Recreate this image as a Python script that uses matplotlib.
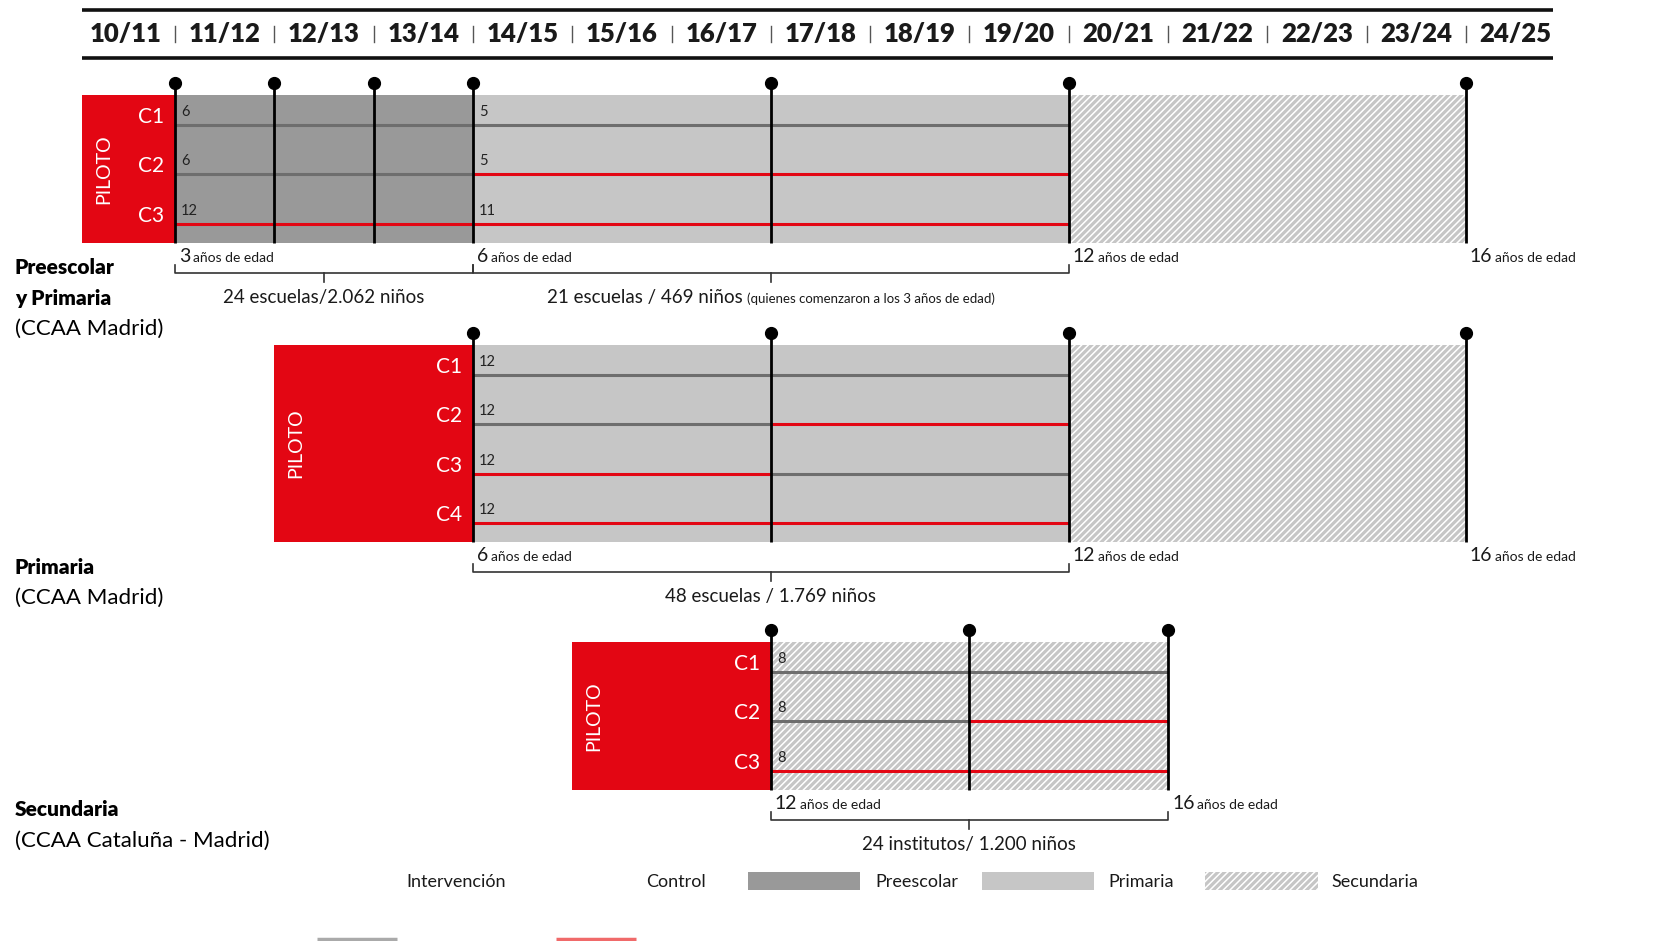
import matplotlib
matplotlib.use('Agg')
import matplotlib.pyplot as plt
from matplotlib.patches import Rectangle

plt.rcParams['font.family'] = ['Lato', 'DejaVu Sans']
plt.rcParams['hatch.linewidth'] = 1.1

# ---------------- data ----------------
years = ['10/11', '11/12', '12/13', '13/14', '14/15', '15/16', '16/17', '17/18',
         '18/19', '19/20', '20/21', '21/22', '22/23', '23/24', '24/25']

# Block 1 : Preescolar y Primaria
b1_title = ['Preescolar', 'y Primaria']
b1_region = '(CCAA Madrid)'
b1_pilot = 0.065
b1_stages = [('pre', 1, 4), ('prim', 4, 10), ('sec', 10, 14)]
b1_waves = [1, 2, 3, 4, 7, 10, 14]
b1_cohorts = ['C1', 'C2', 'C3']
b1_lines = [[(1, 10, 'I')], [(1, 4, 'I'), (4, 10, 'C')], [(1, 10, 'C')]]
b1_counts = [(1, ['6', '6', '12']), (4, ['5', '5', '11'])]
b1_ages = [(1, '3'), (4, '6'), (10, '12'), (14, '16')]
b1_samples = [(1, 4, '24 escuelas/2.062 niños', ''),
              (4, 10, '21 escuelas / 469 niños', '(quienes comenzaron a los 3 años de edad)')]

# Block 2 : Primaria
b2_title = ['Primaria']
b2_region = '(CCAA Madrid)'
b2_pilot = 2
b2_stages = [('prim', 4, 10), ('sec', 10, 14)]
b2_waves = [4, 7, 10, 14]
b2_cohorts = ['C1', 'C2', 'C3', 'C4']
b2_lines = [[(4, 10, 'I')], [(4, 7, 'I'), (7, 10, 'C')], [(4, 7, 'C'), (7, 10, 'I')], [(4, 10, 'C')]]
b2_counts = [(4, ['12', '12', '12', '12'])]
b2_ages = [(4, '6'), (10, '12'), (14, '16')]
b2_samples = [(4, 10, '48 escuelas / 1.769 niños', '')]

# Block 3 : Secundaria
b3_title = ['Secundaria']
b3_region = '(CCAA Cataluña - Madrid)'
b3_pilot = 5
b3_stages = [('sec', 7, 11)]
b3_waves = [7, 9, 11]
b3_cohorts = ['C1', 'C2', 'C3']
b3_lines = [[(7, 11, 'I')], [(7, 9, 'I'), (9, 11, 'C')], [(7, 11, 'C')]]
b3_counts = [(7, ['8', '8', '8'])]
b3_ages = [(7, '12'), (11, '16')]
b3_samples = [(7, 11, '24 institutos/ 1.200 niños', '')]

legend_labels = ['Intervención', 'Control', 'Preescolar', 'Primaria', 'Secundaria']

# ---------------- styles ----------------
RED = '#e30613'
DARK = '#999999'
LIGHT = '#c6c6c6'
IGRAY = '#6e6e6e'
TXT = '#1a1a1a'
stage_style = {'pre': dict(facecolor=DARK, edgecolor='none'),
               'prim': dict(facecolor=LIGHT, edgecolor='none'),
               'sec': dict(facecolor=LIGHT, edgecolor='white', hatch='/////', linewidth=0)}
line_color = {'I': IGRAY, 'C': RED}

W, H = 1653, 941
X0, DX = 75.7, 99.3


def X(px):
    return (px - X0) / DX


fig = plt.figure(figsize=(W / 100, H / 100), dpi=100)
ax = fig.add_axes([0, 0, 1, 1])
ax.set_xlim(X(0), X(W))
ax.set_ylim(H, 0)
ax.axis('off')
renderer = fig.canvas.get_renderer()


def width_units(t):
    bb = t.get_window_extent(renderer=renderer)
    return bb.width / DX


# ---------------- header ----------------
ax.plot([X(82), X(1553)], [10, 10], color='#111', lw=2.6, solid_capstyle='butt')
ax.plot([X(82), X(1553)], [58, 58], color='#111', lw=2.6, solid_capstyle='butt')
for i, y in enumerate(years):
    ax.text(i + 0.5, 34, y, ha='center', va='center', fontsize=18.5, fontweight='heavy', color=TXT)
    if i > 0:
        ax.plot([i, i], [26, 42], color='#555', lw=1)


def draw_block(top, pilot, stages, waves, cohorts, lines, counts, ages, samples,
               title, region, title_y):
    n = len(cohorts)
    rh = 49.3
    bottom = top + n * rh
    first = stages[0][1]
    # pilot box
    ax.add_patch(Rectangle((pilot, top), first - pilot, bottom - top, facecolor=RED, edgecolor='none'))
    ax.text(pilot + 0.22, (top + bottom) / 2, 'PILOTO', rotation=90, ha='center', va='center',
            color='white', fontsize=14)
    for k, s, e in stages:
        ax.add_patch(Rectangle((s, top), e - s, bottom - top, **stage_style[k]))
    # cohort lines
    for i, segs in enumerate(lines):
        ly = top + 30 + i * rh
        for s, e, kind in segs:
            ax.plot([s, e], [ly, ly], color=line_color[kind], lw=2.2, solid_capstyle='butt')
        ax.text(first - 0.11, ly - 8, cohorts[i], ha='right', va='center', color='white', fontsize=15)
    for t, vals in counts:
        for i, v in enumerate(vals):
            ly = top + 30 + i * rh
            ax.text(t + 0.06, ly - 13, v, ha='left', va='center', color='#222', fontsize=10.5)
    # waves
    for t in waves:
        ax.plot([t, t], [top - 12, bottom], color='black', lw=2.0, solid_capstyle='butt')
        ax.plot([t], [top - 12], marker='o', color='black', markersize=8.5)
    # ages
    for t, a in ages:
        tb = ax.text(t + 0.04, bottom + 19, a, ha='left', va='baseline', fontsize=14, color=TXT)
        w = width_units(tb)
        ax.text(t + 0.04 + w + 0.03, bottom + 19, 'años de edad', ha='left', va='baseline',
                fontsize=10, color=TXT)
    # brackets
    by = bottom + 30
    for s, e, lab, small in samples:
        m = (s + e) / 2
        ax.plot([s, s, e, e], [by - 8, by, by, by - 8], color='#333', lw=1.2)
        ax.plot([m, m], [by, by + 9], color='#333', lw=1.2)
        t1 = ax.text(0, bottom + 60, lab, ha='left', va='baseline', fontsize=13.5, color=TXT)
        w1 = width_units(t1)
        if small:
            t2 = ax.text(0, bottom + 60, small, ha='left', va='baseline', fontsize=9.5, color=TXT)
            w2 = width_units(t2)
            gap = 0.05
            total = w1 + gap + w2
            t1.set_x(m - total / 2)
            t2.set_x(m - total / 2 + w1 + gap)
        else:
            t1.set_x(m - w1 / 2)
    # titles
    yy = title_y
    for tl in title:
        ax.text(X(15), yy, tl, ha='left', va='center', fontsize=15, fontweight='heavy', color='black')
        yy += 31
    ax.text(X(15), yy, region, ha='left', va='center', fontsize=16, color='black')


draw_block(95, b1_pilot, b1_stages, b1_waves, b1_cohorts, b1_lines, b1_counts, b1_ages,
           b1_samples, b1_title, b1_region, 267)
draw_block(345, b2_pilot, b2_stages, b2_waves, b2_cohorts, b2_lines, b2_counts, b2_ages,
           b2_samples, b2_title, b2_region, 567)
draw_block(642, b3_pilot, b3_stages, b3_waves, b3_cohorts, b3_lines, b3_counts, b3_ages,
           b3_samples, b3_title, b3_region, 810)

# ---------------- legend ----------------
ly = 882
ax.plot([X(317), X(397)], [939, 939], color='#aaaaaa', lw=2.5, solid_capstyle='butt')
ax.text(X(406), ly, legend_labels[0], ha='left', va='center', fontsize=13, color=TXT)
ax.plot([X(556), X(636)], [939, 939], color='#f06a6a', lw=2.5, solid_capstyle='butt')
ax.text(X(646), ly, legend_labels[1], ha='left', va='center', fontsize=13, color=TXT)
ax.add_patch(Rectangle((X(748), 872), X(860) - X(748), 18, **stage_style['pre']))
ax.text(X(875), ly, legend_labels[2], ha='left', va='center', fontsize=13, color=TXT)
ax.add_patch(Rectangle((X(982), 872), X(1094) - X(982), 18, **stage_style['prim']))
ax.text(X(1108), ly, legend_labels[3], ha='left', va='center', fontsize=13, color=TXT)
ax.add_patch(Rectangle((X(1205), 872), X(1318) - X(1205), 18, **stage_style['sec']))
ax.text(X(1331), ly, legend_labels[4], ha='left', va='center', fontsize=13, color=TXT)

fig.savefig('out.png', dpi=100, facecolor='white')
